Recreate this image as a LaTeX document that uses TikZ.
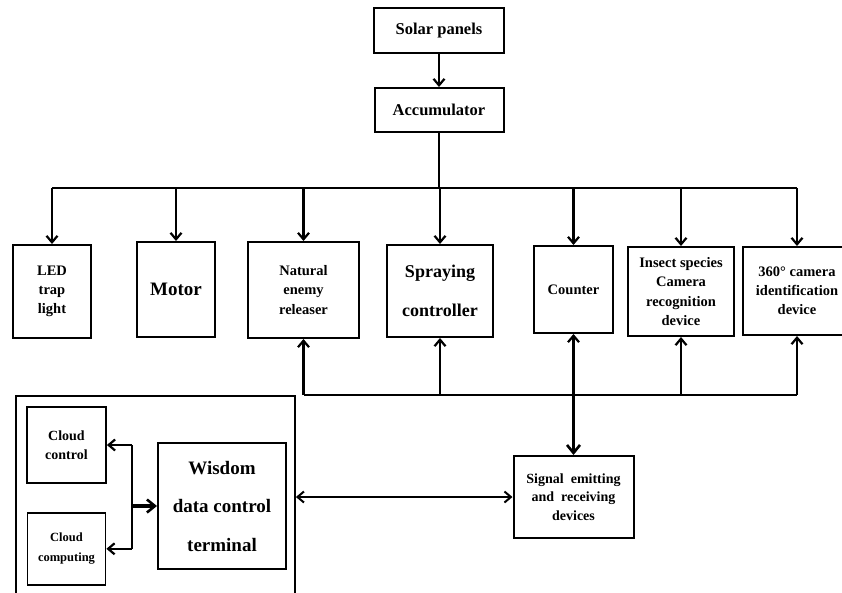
\documentclass[tikz,border=0pt]{standalone}
\usepackage{fontspec}
\setmainfont{Liberation Serif}
\usepackage{tikz}
\usetikzlibrary{arrows.meta,positioning}
\tikzset{
  unitbox/.style={
    draw,
    line width=2pt,
    align=center,
    inner sep=2pt,
    font=\bfseries\fontsize{14.5}{19.2}\selectfont
  },
  bigtext/.style={font=\bfseries\fontsize{19}{38.5}\selectfont},
  flowline/.style={line width=2.4pt},
  flowarrow/.style={-{Straight Barb[length=6.5pt,width=11pt,line width=2.2pt]}, line width=2.4pt},
  dualarrow/.style={{Straight Barb[length=6.5pt,width=11pt,line width=2pt]}-{Straight Barb[length=6.5pt,width=11pt,line width=2pt]}, line width=2.2pt},
  heavyarrow/.style={-{Straight Barb[length=8pt,width=13pt,line width=2.6pt]}, line width=3.2pt}
}

\begin{document}
\begin{tikzpicture}[x=1pt, y=-1pt, node distance=30pt and 20pt]
\useasboundingbox (0,0) rectangle (842,592);
\clip (0,0) rectangle (842,592);

\node[unitbox, minimum width=130pt, minimum height=45pt, font=\bfseries\fontsize{16.5}{20}\selectfont] (solar) at (439,30.5) {Solar panels};
\node[unitbox, below=33pt of solar, minimum width=129pt, minimum height=44pt, font=\bfseries\fontsize{16.5}{20}\selectfont] (acc) {Accumulator};

\node[unitbox, minimum width=78pt, minimum height=93pt] (led) at (52,291.5) {LED\\trap\\light};
\node[unitbox, bigtext, minimum width=78pt, minimum height=95pt] (motor) at (176,289.5) {Motor};
\node[unitbox, minimum width=111pt, minimum height=96pt] (nat) at (303.5,290) {Natural\\enemy\\releaser};
\node[unitbox, minimum width=106pt, minimum height=92pt, font=\bfseries\fontsize{18}{39}\selectfont] (spray) at (440,291) {Spraying\\controller};
\node[unitbox, minimum width=79pt, minimum height=87pt] (counter) at (573.5,289.5) {Counter};
\node[unitbox, minimum width=106pt, minimum height=89pt] (insect) at (681,291.5) {Insect species\\Camera\\recognition\\device};
\node[unitbox, minimum width=108pt, minimum height=88pt] (cam) at (797,291) {360° camera\\identification\\device};

\node[unitbox, below=121pt of counter, minimum width=120pt, minimum height=82pt, font=\bfseries\fontsize{14}{18.7}\selectfont] (signal) {Signal~~emitting\\and~~receiving\\devices};

\node[unitbox, line width=1.8pt, minimum width=279pt, minimum height=224pt] (cloudframe) at (155.5,508) {};
\node[unitbox, line width=1.8pt, minimum width=79pt, minimum height=76pt, font=\bfseries\fontsize{14}{19}\selectfont] (cctrl) at (66.5,445) {Cloud\\control};
\node[unitbox, line width=1.8pt, below=28pt of cctrl, minimum width=78pt, minimum height=72pt, font=\bfseries\fontsize{12.5}{20}\selectfont] (ccomp) {Cloud\\computing};
\node[unitbox, bigtext, minimum width=128pt, minimum height=126pt] (wisdom) at (222,506) {Wisdom\\data control\\terminal};

\coordinate (topbus) at (0,188);
\coordinate (lowbus) at (0,395);
\coordinate (split) at (132,506);

\draw[flowarrow] (solar) -- (acc);
\draw[flowline] (acc.south) -- (acc.south |- topbus);
\draw[flowline] (led.north |- topbus) -- (cam.north |- topbus);
\draw[flowarrow] (led.north |- topbus) -- (led.north);
\draw[flowarrow] (motor.north |- topbus) -- (motor.north);
\draw[flowarrow] (nat.north |- topbus) -- (nat.north);
\draw[flowarrow] (spray.north |- topbus) -- (spray.north);
\draw[flowarrow] (counter.north |- topbus) -- (counter.north);
\draw[flowarrow] (insect.north |- topbus) -- (insect.north);
\draw[flowarrow] (cam.north |- topbus) -- (cam.north);

\draw[flowline] (nat.south |- lowbus) -- (cam.south |- lowbus);
\draw[flowarrow] (nat.south |- lowbus) -- (nat.south);
\draw[flowarrow] (spray.south |- lowbus) -- (spray.south);
\draw[flowarrow] (counter.south |- lowbus) -- (counter.south);
\draw[flowarrow] (insect.south |- lowbus) -- (insect.south);
\draw[flowarrow] (cam.south |- lowbus) -- (cam.south);
\draw[heavyarrow] (counter.south |- lowbus) -- (signal.north);

\draw[dualarrow] (cloudframe.east |- signal) -- (signal.west);

\draw[flowline] (split |- cctrl) -- (split |- ccomp);
\draw[flowarrow] (split |- cctrl) -- (cctrl.east);
\draw[flowarrow] (split |- ccomp) -- (ccomp.east);
\draw[heavyarrow] (split) -- (wisdom.west);
\end{tikzpicture}
\end{document}
